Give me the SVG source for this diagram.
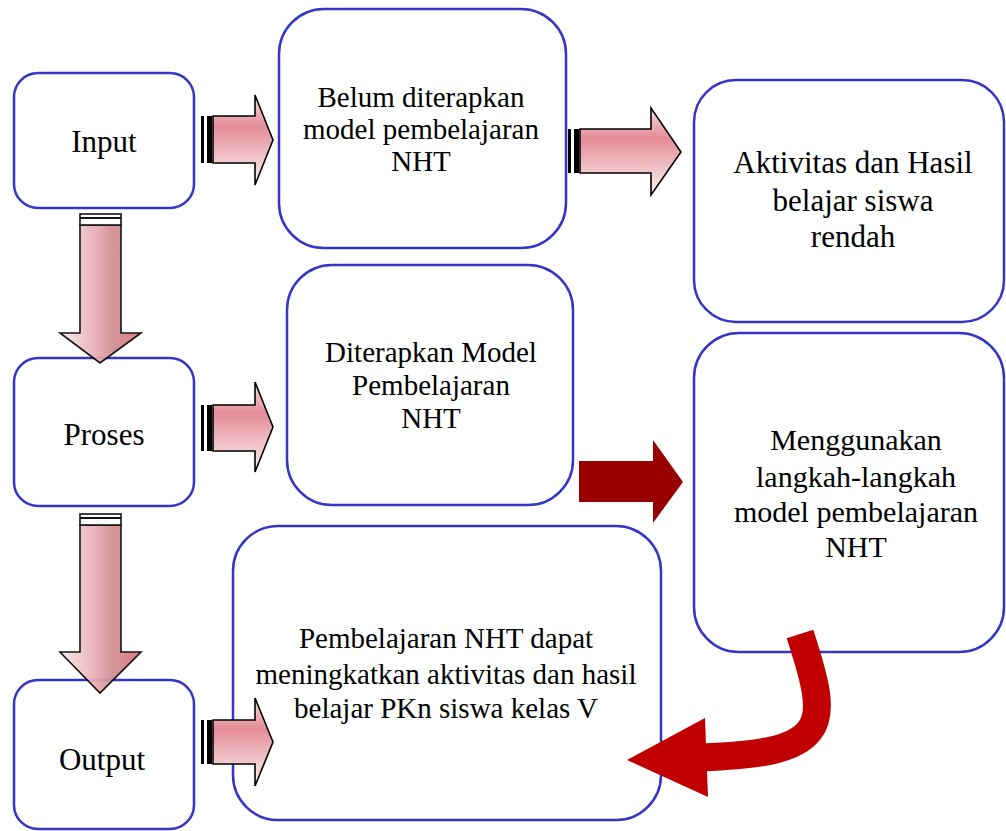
<svg xmlns="http://www.w3.org/2000/svg" width="1006" height="831" viewBox="0 0 1006 831">
<style>
.box{fill:none;stroke:#3535c8;stroke-width:2.5}
.t{fill:#000;text-anchor:middle;font-family:"Liberation Serif","Times New Roman",serif}
.la{font-size:30px}
.bt{font-size:29px}
.ar{stroke:#000;stroke-width:1.6;stroke-linejoin:miter}
.cap{fill:#000}
</style>
<defs>
<linearGradient id="gh" x1="0" y1="0" x2="0" y2="1">
<stop offset="0" stop-color="#f6dfe2"/>
<stop offset="0.35" stop-color="#e48c97"/>
<stop offset="1" stop-color="#fbf4f4"/>
</linearGradient>
<linearGradient id="gv" x1="0" y1="0" x2="1" y2="0">
<stop offset="0" stop-color="#f7ecee"/>
<stop offset="0.45" stop-color="#e8aab2"/>
<stop offset="0.65" stop-color="#cf8e92"/>
<stop offset="1" stop-color="#e0707e"/>
</linearGradient>
</defs>
<rect width="1006" height="831" fill="#fff"/>
<g id="node-input"><rect class="box" x="14" y="73" width="180" height="135" rx="24"/><text class="t" font-size="31" x="104" y="152">Input</text></g>
<g id="node-proses"><rect class="box" x="14" y="358" width="180" height="148" rx="24"/><text class="t" font-size="31" x="104" y="445">Proses</text></g>
<g id="node-output"><rect class="box" x="14" y="680" width="180" height="149" rx="24"/><text class="t" font-size="31" x="102" y="770">Output</text></g>
<g id="node-belum"><rect class="box" x="279" y="9" width="287" height="239" rx="45"/>
<text class="t bt" x="421" y="107">Belum diterapkan</text>
<text class="t bt" x="421" y="139">model pembelajaran</text>
<text class="t bt" x="421" y="171">NHT</text></g>
<g id="node-aktivitas"><rect class="box" x="694" y="80" width="310" height="242" rx="42"/>
<text class="t" font-size="31" x="853" y="173">Aktivitas dan Hasil</text>
<text class="t" font-size="31" x="853" y="211">belajar siswa</text>
<text class="t" font-size="31" x="853" y="247">rendah</text></g>
<g id="node-diterapkan"><rect class="box" x="287" y="265" width="286" height="240" rx="45"/>
<text class="t bt" x="431" y="362">Diterapkan Model</text>
<text class="t bt" x="431" y="395">Pembelajaran</text>
<text class="t bt" x="431" y="428">NHT</text></g>
<g id="node-menggunakan"><rect class="box" x="694" y="333" width="310" height="319" rx="45"/>
<text class="t la" x="856" y="450">Menggunakan</text>
<text class="t la" x="856" y="487">langkah-langkah</text>
<text class="t la" x="856" y="522">model pembelajaran</text>
<text class="t la" x="856" y="557">NHT</text></g>
<g id="node-pembelajaran"><rect class="box" x="233" y="526" width="428" height="294" rx="45"/>
<text class="t bt" x="446" y="648">Pembelajaran NHT dapat</text>
<text class="t bt" x="446" y="684">meningkatkan aktivitas dan hasil</text>
<text class="t bt" x="446" y="718">belajar PKn siswa kelas V</text></g>
<g id="connectors">
<g>
<path class="ar" fill="url(#gh)" d="M213,116 H255 V95 L273,140 L255,185 V163 H213 Z"/>
<rect class="cap" x="201" y="116" width="3" height="47"/><rect class="cap" x="207" y="116" width="5" height="47"/>
</g>
<g>
<path class="ar" fill="url(#gh)" d="M580,129 H651 V108 L681,152 L651,195 V173 H580 Z"/>
<rect class="cap" x="568" y="129" width="3" height="44"/><rect class="cap" x="574" y="129" width="5" height="44"/>
</g>
<g>
<path class="ar" fill="url(#gh)" d="M213,405 H255 V382 L273,427 L255,472 V451 H213 Z"/>
<rect class="cap" x="201" y="405" width="3" height="46"/><rect class="cap" x="207" y="405" width="5" height="46"/>
</g>
<g>
<path class="ar" fill="url(#gh)" d="M213,720 H255 V698 L273,742 L255,786 V764 H213 Z"/>
<rect class="cap" x="201" y="720" width="3" height="44"/><rect class="cap" x="207" y="720" width="5" height="44"/>
</g>
<g opacity="0.92">
<path class="ar" fill="url(#gv)" d="M80,225 V333 H60 L100,363 L141,333 H121 V225 Z"/>
<rect x="80" y="214" width="41" height="11" fill="#fff" stroke="#000" stroke-width="1.6"/>
<line x1="80" y1="218" x2="121" y2="218" stroke="#000" stroke-width="2"/>
</g>
<g opacity="0.92">
<path class="ar" fill="url(#gv)" d="M80,525 V652 H60 L100,693 L141,652 H121 V525 Z"/>
<rect x="80" y="514" width="41" height="11" fill="#fff" stroke="#000" stroke-width="1.6"/>
<line x1="80" y1="518" x2="121" y2="518" stroke="#000" stroke-width="2"/>
</g>
<path fill="#990000" d="M579,461 H653 V440 L683,482 L653,523 V502 H579 Z"/>
<path fill="none" stroke="#c00000" stroke-width="28" d="M800,634 C815,680 824,712 810,730 C795,750 760,755 702,757.5"/>
<path fill="#c00000" d="M705,718 L627,760 L708,797 Z"/>
</g>
</svg>
